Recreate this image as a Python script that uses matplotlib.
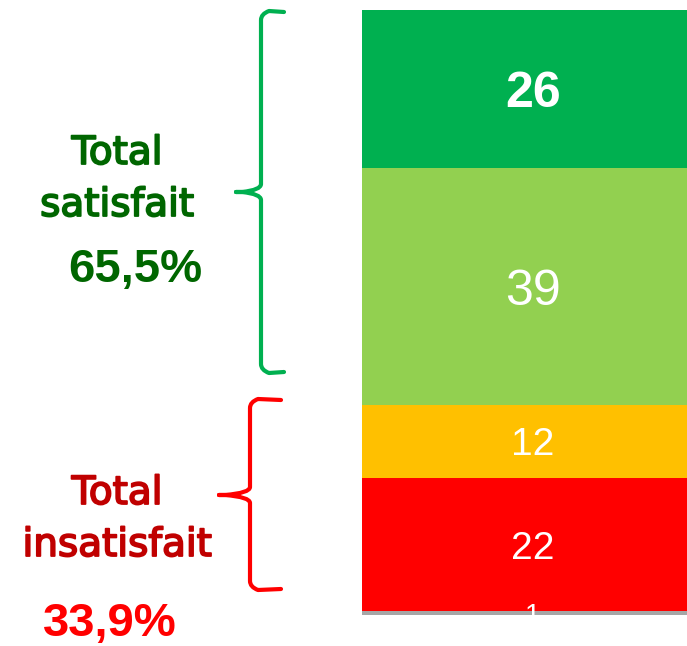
import matplotlib.pyplot as plt
import matplotlib.patheffects as pe
from matplotlib.path import Path
from matplotlib.patches import PathPatch

# valeurs (du bas vers le haut)
values = [0.6, 22, 12, 39, 26]
labels = ['1', '22', '12', '39', '26']
colors = ['#A6A6A6', '#FF0000', '#FFC000', '#92D050', '#00B050']
label_sizes = [20, 28, 28, 36, 36]
label_weights = ['normal', 'normal', 'normal', 'normal', 'bold']

total_sat = '65,5%'
total_insat = '33,9%'

fig = plt.figure(figsize=(6.87, 6.46), dpi=100)

# axe du graphique
ax = fig.add_axes([0, 0, 1, 1])
ax.set_xlim(0, 687)
ax.set_ylim(-31 / 6.07, 615 / 6.07)
ax.axis('off')

bar_left = 362
bar_width = 342
bottom = 0
for v, lab, c, fs, fw in zip(values, labels, colors, label_sizes, label_weights):
    ax.bar(bar_left, v, width=bar_width, bottom=bottom, color=c, align='edge',
           edgecolor='none')
    ax.text(bar_left + bar_width / 2, bottom + v / 2, lab, color='white',
            ha='center', va='center_baseline', fontsize=fs, fontweight=fw,
            family='Liberation Sans')
    bottom += v

# axe d'annotation en pixels
an = fig.add_axes([0, 0, 1, 1])
an.set_xlim(0, 687)
an.set_ylim(646, 0)
an.axis('off')


def brace(x_v, top, bot, mid, tip_x, hook_x, color):
    r = 8
    verts = [(hook_x, top), (x_v + r, top - 1), (x_v, top + 2), (x_v, top + r),
             (x_v, mid - r), (x_v, mid - 2), (tip_x + 6, mid), (tip_x, mid),
             (tip_x + 6, mid), (x_v, mid + 2), (x_v, mid + r),
             (x_v, bot - r), (x_v, bot - 2), (x_v + r, bot + 1), (hook_x, bot)]
    codes = [Path.MOVETO, Path.LINETO, Path.CURVE3, Path.CURVE3,
             Path.LINETO, Path.CURVE3, Path.CURVE3, Path.LINETO,
             Path.LINETO, Path.CURVE3, Path.CURVE3,
             Path.LINETO, Path.CURVE3, Path.CURVE3, Path.LINETO]
    an.add_patch(PathPatch(Path(verts, codes), fill=False, edgecolor=color,
                           lw=3, capstyle='round', joinstyle='round'))


brace(261, 12, 372, 192, 236, 284, '#00B050')
brace(250, 400, 589, 495, 219, 281, '#FF0000')

thick_g = [pe.withStroke(linewidth=1.3, foreground='#006600')]
thick_r = [pe.withStroke(linewidth=1.3, foreground='#C00000')]

an.text(117, 153, 'Total', color='#006600', fontsize=28, ha='center', va='center',
        family='DejaVu Sans', path_effects=thick_g)
an.text(117, 205, 'satisfait', color='#006600', fontsize=28, ha='center', va='center',
        family='DejaVu Sans', path_effects=thick_g)
an.text(135, 270, total_sat, color='#006600', fontsize=34, fontweight='bold',
        ha='center', va='center', family='Liberation Sans')

an.text(117, 493, 'Total', color='#C00000', fontsize=28, ha='center', va='center',
        family='DejaVu Sans', path_effects=thick_r)
an.text(117, 545, 'insatisfait', color='#C00000', fontsize=28, ha='center', va='center',
        family='DejaVu Sans', path_effects=thick_r)
an.text(110, 624, total_insat, color='#FF0000', fontsize=34, fontweight='bold',
        ha='center', va='center', family='Liberation Sans')

fig.savefig('out.png', dpi=100)
